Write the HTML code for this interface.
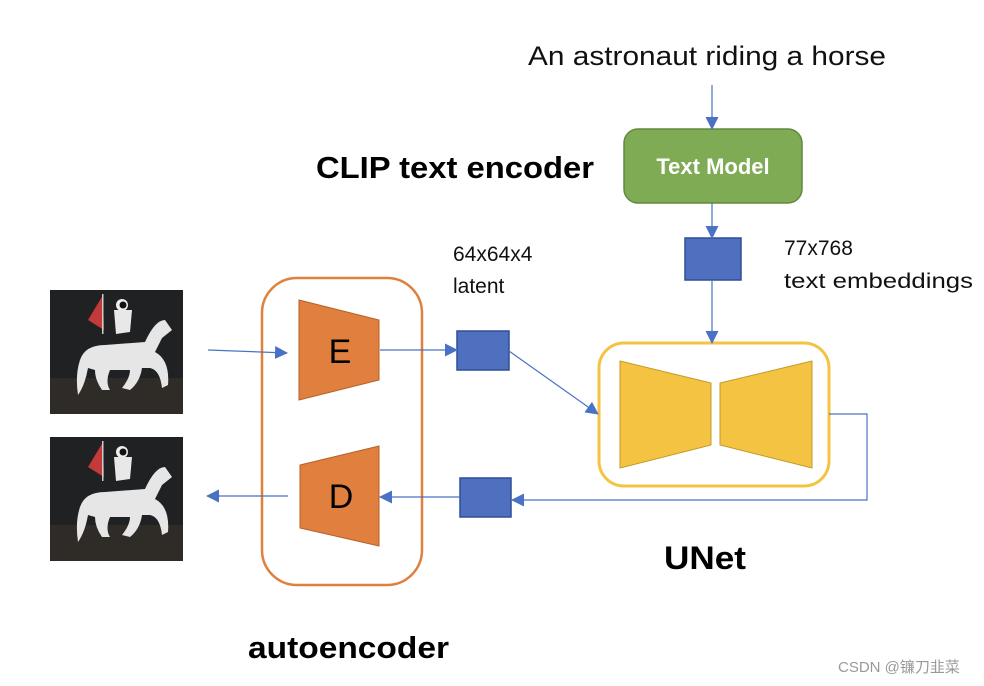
<!DOCTYPE html>
<html><head><meta charset="utf-8"><style>html,body{margin:0;padding:0;background:#fff}svg{display:block}</style></head>
<body>
<svg width="984" height="686" viewBox="0 0 984 686" xmlns="http://www.w3.org/2000/svg" font-family="Liberation Sans, sans-serif">
<defs>
<marker id="ah" markerWidth="13" markerHeight="13" refX="12" refY="6.5" orient="auto" markerUnits="userSpaceOnUse">
<path d="M0,0 L13,6.5 L0,13 z" fill="#4a72c4"/></marker>
<g id="img">
<rect x="0" y="0" width="133" height="124" fill="#1f2122"/>
<rect x="0" y="88" width="133" height="36" fill="#2f2b27"/>
<path d="M53,5 L54,40 L38,30 Z" fill="#c23a3a"/>
<rect x="52" y="4" width="1.5" height="40" fill="#ccc"/>
<circle cx="72" cy="15" r="6" fill="#eee"/><circle cx="73" cy="15" r="3.5" fill="#111"/>
<path d="M64,20 L82,20 L80,42 L66,44 Z" fill="#e8e8e8"/>
<path d="M30,70 Q35,55 55,55 L95,52 Q105,30 115,30 L122,40 L112,48 L105,62 Q120,70 118,95 L112,98 Q110,80 100,78 L92,78 Q90,92 80,100 L72,98 Q80,88 80,80 L60,80 Q55,92 60,100 L52,100 Q45,90 45,80 L38,78 Q35,95 28,105 Q25,85 30,70 Z" fill="#e6e6e6"/>
</g>
</defs>

<use href="#img" x="50" y="290"/>
<use href="#img" x="50" y="437"/>

<rect x="262" y="278" width="160" height="307" rx="35" fill="none" stroke="#e0803e" stroke-width="2.5"/>
<path d="M299,300 L379,320 L379,380 L299,400 Z" fill="#e07f3e" stroke="#b5602a" stroke-width="1"/>
<path d="M300,465 L379,446 L379,546 L300,528 Z" fill="#e07f3e" stroke="#b5602a" stroke-width="1"/>
<text x="340" y="363" font-size="34" text-anchor="middle" fill="#000">E</text>
<text x="341" y="508" font-size="34" text-anchor="middle" fill="#000">D</text>

<rect x="457" y="331" width="52" height="39" fill="#4e70bf" stroke="#2f4e96" stroke-width="1.5"/>
<rect x="685" y="238" width="56" height="42" fill="#4e70bf" stroke="#2f4e96" stroke-width="1.5"/>
<rect x="460" y="478" width="51" height="39" fill="#4e70bf" stroke="#2f4e96" stroke-width="1.5"/>

<rect x="624" y="129" width="178" height="74" rx="14" fill="#7fab55" stroke="#62883f" stroke-width="1.5"/>
<text x="713" y="174" font-size="22" font-weight="bold" text-anchor="middle" fill="#fff">Text Model</text>

<rect x="599" y="343" width="230" height="143" rx="25" fill="none" stroke="#f5c342" stroke-width="3"/>
<path d="M620,361 L711,383 L711,445 L620,468 Z" fill="#f5c342" stroke="#c29a2a" stroke-width="1"/>
<path d="M720,383 L812,361 L812,468 L720,445 Z" fill="#f5c342" stroke="#c29a2a" stroke-width="1"/>

<g stroke="#4a72c4" stroke-width="1.2" fill="none">
<line x1="208" y1="350" x2="287" y2="353" marker-end="url(#ah)"/>
<line x1="380" y1="350" x2="457" y2="350" marker-end="url(#ah)"/>
<line x1="509" y1="351" x2="598" y2="414" marker-end="url(#ah)"/>
<line x1="712" y1="85" x2="712" y2="129" marker-end="url(#ah)"/>
<line x1="712" y1="203" x2="712" y2="238" marker-end="url(#ah)"/>
<line x1="712" y1="280" x2="712" y2="343" marker-end="url(#ah)"/>
<polyline points="829,414 867,414 867,500 512,500" marker-end="url(#ah)"/>
<line x1="460" y1="497" x2="380" y2="497" marker-end="url(#ah)"/>
<line x1="288" y1="496" x2="207" y2="496" marker-end="url(#ah)"/>
</g>

<text x="528" y="65" font-size="27" fill="#111" textLength="358" lengthAdjust="spacingAndGlyphs">An astronaut riding a horse</text>
<text x="316" y="178" font-size="31" font-weight="bold" fill="#000" textLength="278" lengthAdjust="spacingAndGlyphs">CLIP text encoder</text>
<text x="453" y="261" font-size="21" fill="#111">64x64x4</text>
<text x="453" y="293" font-size="21" fill="#111">latent</text>
<text x="784" y="255" font-size="21" fill="#111">77x768</text>
<text x="784" y="288" font-size="21" fill="#111" textLength="189" lengthAdjust="spacingAndGlyphs">text embeddings</text>
<text x="664" y="569" font-size="32" font-weight="bold" fill="#000" textLength="82" lengthAdjust="spacingAndGlyphs">UNet</text>
<text x="248" y="658" font-size="31" font-weight="bold" fill="#000" textLength="201" lengthAdjust="spacingAndGlyphs">autoencoder</text>
<text x="838" y="672" font-size="15" fill="#999" font-family="Liberation Sans, Noto Sans CJK SC, sans-serif">CSDN @镰刀韭菜</text>
</svg>
</body></html>
